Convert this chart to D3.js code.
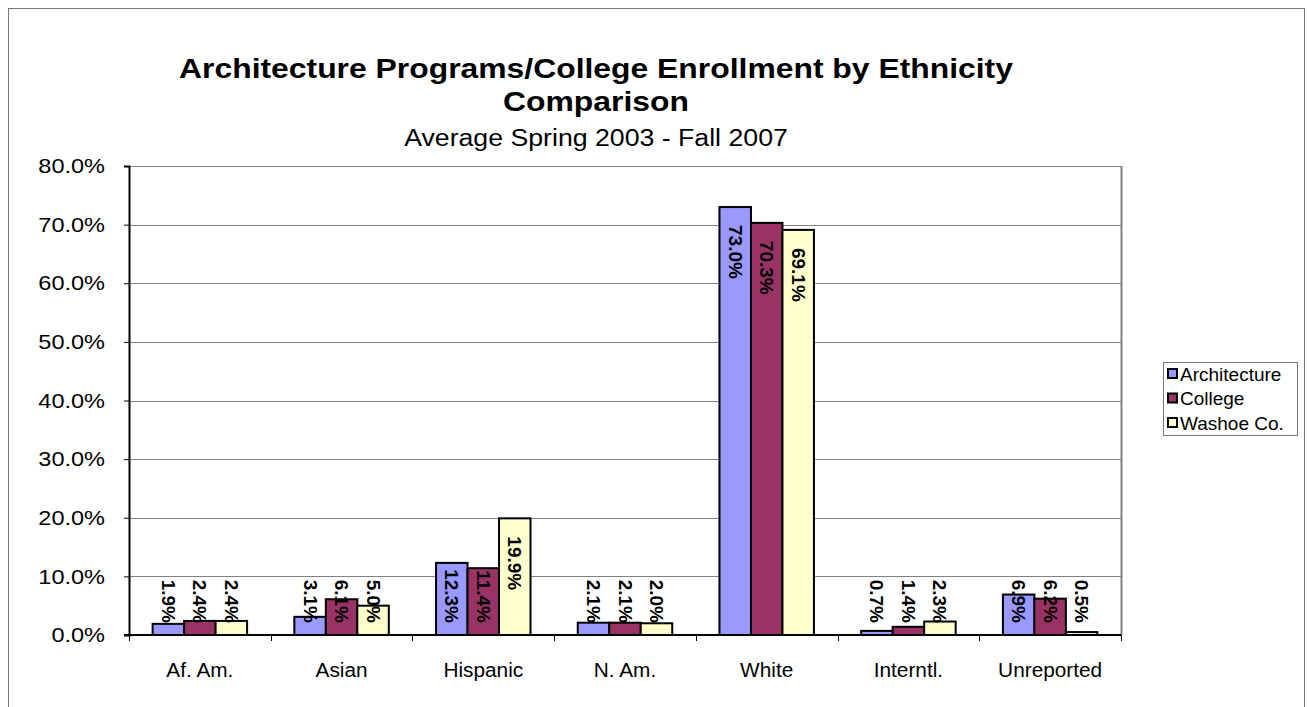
<!DOCTYPE html>
<html><head><meta charset="utf-8">
<script src="https://cdn.jsdelivr.net/npm/d3@7"></script>
<style>body{margin:0;background:#fff;}svg{display:block;font-family:Arial,'Liberation Sans',sans-serif;}</style>
</head><body>
<script>
const categories = ["Af. Am.","Asian","Hispanic","N. Am.","White","Interntl.","Unreported"];
const seriesNames = ["Architecture","College","Washoe Co."];
const architecture = [1.9,3.1,12.3,2.1,73.0,0.7,6.9];
const college = [2.4,6.1,11.4,2.1,70.3,1.4,6.2];
const washoe = [2.4,5.0,19.9,2.0,69.1,2.3,0.5];
const yTicks = [0,10,20,30,40,50,60,70,80];
const colors = ["#9999FF","#993366","#FFFFCC"];
const series = [architecture, college, washoe];

const W = 1308, H = 707;
const svg = d3.select("body").append("svg").attr("width",W).attr("height",H);
svg.append("rect").attr("x",8.5).attr("y",8.5).attr("width",1296).attr("height",720)
  .attr("fill","#fff").attr("stroke","#777").attr("stroke-width",1);

function stretch(sel, f){
  sel.each(function(){
    const len=this.getComputedTextLength();
    d3.select(this).attr("textLength",len*f).attr("lengthAdjust","spacingAndGlyphs");
  });
}

const L=129, R=1121, T=166, B=635;
const x0 = d3.scaleBand().domain(categories).range([L,R]).padding(0);
const x1 = d3.scaleBand().domain(d3.range(3)).range([x0.bandwidth()/6, x0.bandwidth()*5/6]);
const y = d3.scaleLinear().domain([0,80]).range([B,T]);

// gridlines
svg.append("g").selectAll("line").data(yTicks.filter(d=>d>0)).join("line")
  .attr("x1",L).attr("x2",R).attr("y1",d=>Math.round(y(d))+0.5).attr("y2",d=>Math.round(y(d))+0.5)
  .attr("stroke","#808080").attr("stroke-width",1);
// right border
svg.append("line").attr("x1",R+0.5).attr("x2",R+0.5).attr("y1",T).attr("y2",B).attr("stroke","#808080").attr("stroke-width",2);

// bars
const groups = svg.append("g").selectAll("g").data(categories).join("g")
  .attr("transform",d=>`translate(${x0(d)},0)`);
groups.selectAll("rect").data((c,i)=>series.map((s,j)=>({j,v:s[i]}))).join("rect")
  .attr("x",d=>x1(d.j)).attr("width",x1.bandwidth())
  .attr("y",d=>y(d.v)).attr("height",d=>B-y(d.v))
  .attr("fill",d=>colors[d.j]).attr("stroke","#000").attr("stroke-width",2);

// labels
groups.selectAll("text").data((c,i)=>series.map((s,j)=>({j,v:s[i]}))).join("text")
  .text(d=>d.v.toFixed(1)+"%")
  .attr("font-size",19).attr("font-weight","bold").attr("fill","#000")
  .attr("text-anchor","end").attr("dominant-baseline","central")
  .each(function(d){
    const len=this.getComputedTextLength();
    const end=Math.min(y(d.v)+18+len, B-12);
    const cx=x1(d.j)+x1.bandwidth()/2;
    d3.select(this).attr("transform",`translate(${cx},${end}) rotate(90)`);
  });

// y axis
const yAxis = d3.axisLeft(y).tickValues(yTicks).tickSize(5).tickPadding(19).tickFormat(d=>d.toFixed(1)+"%");
const ga = svg.append("g").attr("transform",`translate(${L},0)`).call(yAxis);
ga.select(".domain").attr("stroke","#000").attr("stroke-width",2);
ga.selectAll(".tick line").attr("stroke","#000");
ga.selectAll("text").attr("font-size",21).attr("fill","#000").attr("font-family","Arial,'Liberation Sans',sans-serif");
stretch(ga.selectAll("text"),1.12);

// x axis
svg.append("line").attr("x1",L-5).attr("x2",R).attr("y1",B).attr("y2",B).attr("stroke","#000").attr("stroke-width",2);
svg.append("g").selectAll("line").data(categories.concat(["_end"])).join("line")
  .attr("x1",(d,i)=>Math.round(L+i*x0.bandwidth())+0.5).attr("x2",(d,i)=>Math.round(L+i*x0.bandwidth())+0.5)
  .attr("y1",B).attr("y2",B+6).attr("stroke","#000");
const xl = svg.append("g").selectAll("text").data(categories).join("text")
  .attr("x",d=>x0(d)+x0.bandwidth()/2).attr("y",677).attr("text-anchor","middle")
  .attr("font-size",20).text(d=>d);
stretch(xl,1.04);

// titles
const t1 = svg.append("text").attr("x",596).attr("y",78).attr("text-anchor","middle").attr("font-size",27).attr("font-weight","bold")
  .text("Architecture Programs/College Enrollment by Ethnicity");
const t2 = svg.append("text").attr("x",596).attr("y",111).attr("text-anchor","middle").attr("font-size",27).attr("font-weight","bold")
  .text("Comparison");
stretch(t1,1.18); stretch(t2,1.18);
const t3 = svg.append("text").attr("x",596).attr("y",146).attr("text-anchor","middle").attr("font-size",23)
  .text("Average Spring 2003 - Fall 2007");
stretch(t3,1.16);

// legend
const lg = svg.append("g");
lg.append("rect").attr("x",1163.5).attr("y",362.5).attr("width",134).attr("height",73)
  .attr("fill","#fff").attr("stroke","#777");
seriesNames.forEach((n,i)=>{
  const yy = 374 + i*24.5;
  lg.append("rect").attr("x",1168).attr("y",yy-5).attr("width",9).attr("height",9)
    .attr("fill",colors[i]).attr("stroke","#000").attr("stroke-width",2);
  lg.append("text").attr("x",1180).attr("y",yy).attr("dominant-baseline","central").attr("font-size",19).text(n);
});
</script>
</body></html>
